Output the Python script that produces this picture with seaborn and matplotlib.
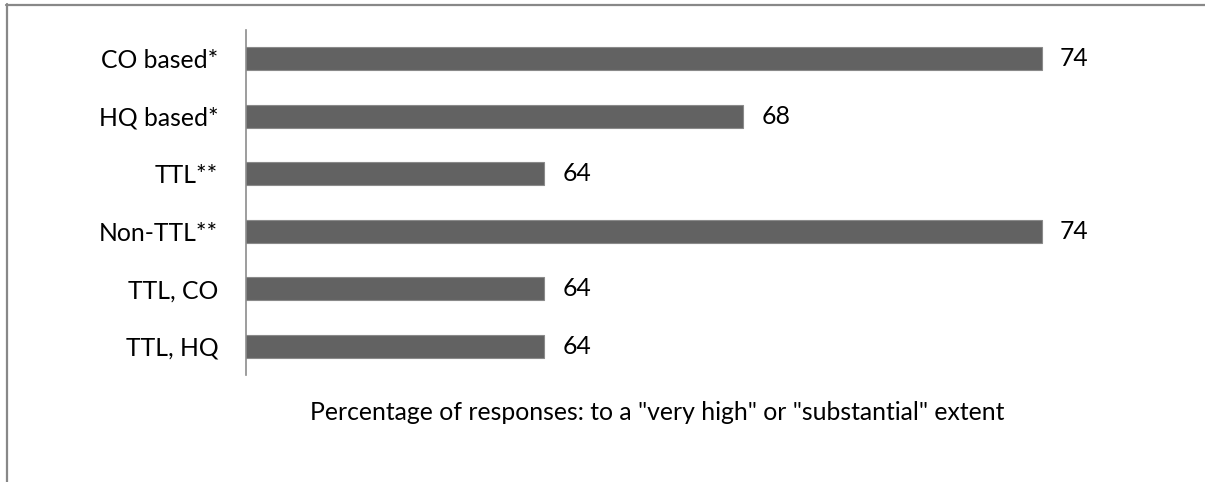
import matplotlib
matplotlib.use("Agg")
import matplotlib.pyplot as plt
import seaborn as sns
import pandas as pd
from matplotlib.lines import Line2D

categories = ["CO based*", "HQ based*", "TTL**", "Non-TTL**", "TTL, CO", "TTL, HQ"]
values = [74, 68, 64, 74, 64, 64]
xlabel = 'Percentage of responses: to a "very high" or "substantial" extent'

sns.set_theme(style="white")
plt.rcParams['font.family'] = ['Lato', 'DejaVu Sans']

FS = 17.8

df = pd.DataFrame({"group": categories, "pct": values})

fig = plt.figure(figsize=(12.05, 4.82), dpi=100)
ax = fig.add_axes([246/1205, 1-375/482, (1141-246)/1205, (375-30)/482])

sns.barplot(data=df, y="group", x="pct", orient="h", color="#626262",
            saturation=1, width=0.4, edgecolor="#8a8a8a", linewidth=0.8, ax=ax)

ax.set_xlim(58, 76)
ax.set_ylim(5.5, -0.5)
for i, v in enumerate(values):
    ax.annotate(f"{v}", xy=(v, i), xytext=(13, 0), textcoords="offset points",
                va="center", ha="left", fontsize=FS, color="black")

ax.set_xticks([])
ax.set_xlabel("")
ax.set_ylabel("")
ax.tick_params(axis="y", length=0, pad=20, labelsize=FS, labelcolor="black")
for s in ["top", "right", "bottom"]:
    ax.spines[s].set_visible(False)
ax.spines["left"].set_color("#8c8c8c")
ax.spines["left"].set_linewidth(1.2)

fig.text(657/1205, 1-413/482, xlabel, ha="center", va="center", fontsize=FS, color="black")

# outer frame (top and left edges)
fig.add_artist(Line2D([6/1205, 1.0], [1-4.5/482, 1-4.5/482], transform=fig.transFigure,
                      color="#888888", linewidth=1.6))
fig.add_artist(Line2D([6.5/1205, 6.5/1205], [1-4/482, 0.0], transform=fig.transFigure,
                      color="#888888", linewidth=1.6))

fig.savefig("out.png", dpi=100, facecolor="white")
